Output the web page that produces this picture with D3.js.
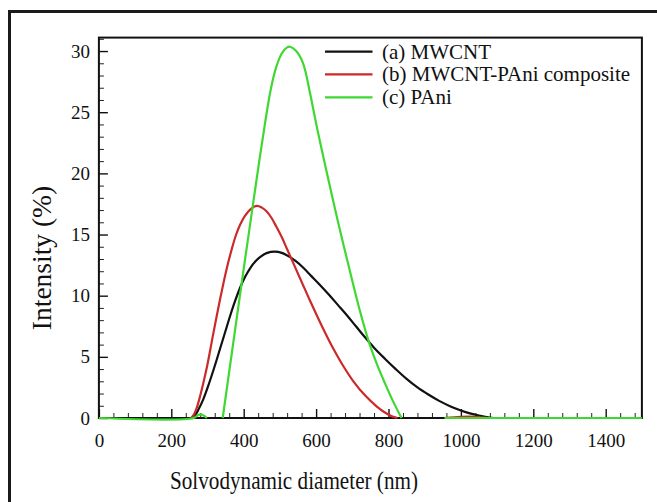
<!DOCTYPE html>
<html>
<head>
<meta charset="utf-8">
<script src="https://cdn.jsdelivr.net/npm/d3@7"></script>
<style>
  html, body { margin: 0; padding: 0; background: #fff; }
  svg { display: block; }
  text { font-family: "Liberation Serif", "Times New Roman", serif; fill: #111; }
</style>
</head>
<body>
<svg id="chart" width="657" height="502"></svg>
<script>
// Particle size distributions (intensity %) vs solvodynamic diameter (nm)
const mwcntDiameter = [255, 265, 276, 288, 304, 320, 334, 348, 362, 376, 390, 404, 419, 432, 445, 465, 486, 505, 528, 545, 564, 587, 610, 635, 660, 685, 710, 735, 760, 790, 820, 850, 880, 910, 940, 970, 1000, 1025, 1050, 1071, 1090];
const mwcntIntensity = [0, 0.2, 0.75, 1.5, 2.8, 4.25, 5.6, 6.95, 8.3, 9.55, 10.65, 11.55, 12.3, 12.8, 13.15, 13.5, 13.6, 13.5, 13.15, 12.8, 12.3, 11.6, 10.9, 10.1, 9.25, 8.4, 7.5, 6.6, 5.75, 4.85, 4.0, 3.2, 2.5, 1.92, 1.4, 0.97, 0.62, 0.38, 0.2, 0.08, 0];

const compositeDiameter = [255, 262, 270, 277, 288, 299, 316, 334, 353, 366, 378, 390, 403, 420, 437, 450, 463, 477, 490, 505, 520, 541, 562, 583, 605, 627, 647, 675, 703, 735, 767, 790, 809, 825, null, 955, 1000, 1040, 1075];
const compositeIntensity = [0, 0.25, 0.8, 1.5, 2.8, 4.25, 6.9, 9.6, 12.2, 13.7, 14.9, 15.8, 16.5, 17.1, 17.35, 17.2, 16.9, 16.35, 15.65, 14.8, 13.8, 12.4, 11.0, 9.6, 8.2, 6.85, 5.7, 4.25, 3.0, 1.85, 0.95, 0.45, 0.15, 0, null, 0, 0.1, 0.1, 0];

const paniDiameter = [0, 262, 272, 282, 292, 298, null, 342, 360, 380, 400, 420, 440, 460, 475, 490, 505, 520, 528, 545, 564, 583, 602, 624, 646, 668, 691, 718, 746, 768, 790, 812, 836, null, 955, 1500];
const paniIntensity = [0, 0, 0.2, 0.3, 0.15, 0, null, 0, 3.8, 8.0, 12.2, 16.3, 20.4, 24.3, 26.9, 28.7, 29.8, 30.3, 30.35, 30.0, 29.0, 26.6, 23.8, 20.8, 17.9, 15.1, 12.3, 9.1, 6.2, 4.4, 2.85, 1.4, 0, null, 0, 0];

const seriesNames = ["(a) MWCNT", "(b) MWCNT-PAni composite", "(c) PAni"];
const seriesColors = ["#111111", "#cc2a2a", "#3fd832"];

const xTicks = [0, 200, 400, 600, 800, 1000, 1200, 1400];
const yTicks = [0, 5, 10, 15, 20, 25, 30];

const xTitle = "Solvodynamic diameter (nm)";
const yTitle = "Intensity (%)";

const svg = d3.select("#chart");
const W = 657, H = 502;

svg.append("rect").attr("width", W).attr("height", H).attr("fill", "#fff");

// outer frame (runs past the right and bottom edges)
svg.append("rect")
  .attr("x", 9.5).attr("y", 11.5)
  .attr("width", 700).attr("height", 600)
  .attr("fill", "none").attr("stroke", "#1a1a1a").attr("stroke-width", 3);

const plot = { left: 98.9, right: 641.9, top: 37.6, bottom: 418 };

const x = d3.scaleLinear().domain([0, 1500]).range([plot.left, plot.right]);
const y = d3.scaleLinear().domain([0, 31.1]).range([plot.bottom, plot.top]);

// minor ticks
const xMinor = d3.range(0, 1500.1, 40).filter(v => v % 200 !== 0);
const yMinor = d3.range(0, 31.1, 1).filter(v => v % 5 !== 0);

svg.append("g")
  .attr("transform", `translate(0,${plot.bottom})`)
  .call(d3.axisBottom(x).tickValues(xMinor).tickSize(-5).tickFormat(""))
  .call(g => g.select(".domain").remove())
  .call(g => g.selectAll("line").attr("stroke", "#222").attr("stroke-width", 1));

svg.append("g")
  .attr("transform", `translate(${plot.left},0)`)
  .call(d3.axisLeft(y).tickValues(yMinor).tickSize(-5).tickFormat(""))
  .call(g => g.select(".domain").remove())
  .call(g => g.selectAll("line").attr("stroke", "#222").attr("stroke-width", 1));

// major ticks with labels
svg.append("g")
  .attr("transform", `translate(0,${plot.bottom})`)
  .call(d3.axisBottom(x).tickValues(xTicks).tickSizeInner(-9).tickSizeOuter(0).tickPadding(16).tickFormat(d3.format("d")))
  .call(g => g.select(".domain").remove())
  .call(g => g.selectAll("line").attr("stroke", "#111").attr("stroke-width", 1.4))
  .call(g => g.selectAll("text").attr("font-size", 19).attr("font-family", "Liberation Serif").attr("fill", "#111"));

svg.append("g")
  .attr("transform", `translate(${plot.left},0)`)
  .call(d3.axisLeft(y).tickValues(yTicks).tickSizeInner(-9).tickSizeOuter(0).tickPadding(9).tickFormat(d3.format("d")))
  .call(g => g.select(".domain").remove())
  .call(g => g.selectAll("line").attr("stroke", "#111").attr("stroke-width", 1.4))
  .call(g => g.selectAll("text").attr("font-size", 19).attr("font-family", "Liberation Serif").attr("fill", "#111"));

// plot frame
svg.append("rect")
  .attr("x", plot.left).attr("y", plot.top)
  .attr("width", plot.right - plot.left).attr("height", plot.bottom - plot.top)
  .attr("fill", "none").attr("stroke", "#111").attr("stroke-width", 2);

// curves
const series = [
  { d: mwcntDiameter, v: mwcntIntensity },
  { d: compositeDiameter, v: compositeIntensity },
  { d: paniDiameter, v: paniIntensity }
];

const line = d3.line()
  .defined(p => p[0] != null && p[1] != null)
  .x(p => x(p[0]))
  .y(p => y(p[1]))
  .curve(d3.curveCatmullRom.alpha(0.5));

series.forEach((s, i) => {
  const pts = s.d.map((d, k) => [d, s.v[k]]);
  svg.append("path")
    .attr("d", line(pts))
    .attr("fill", "none")
    .attr("stroke", seriesColors[i])
    .attr("stroke-width", 2.2)
    .attr("stroke-linejoin", "round");
});

// legend
const legendY = [51.7, 74.3, 97.4];
seriesNames.forEach((name, i) => {
  svg.append("line")
    .attr("x1", 325).attr("x2", 372.5)
    .attr("y1", legendY[i]).attr("y2", legendY[i])
    .attr("stroke", seriesColors[i]).attr("stroke-width", 2.2);
  svg.append("text")
    .attr("x", 382).attr("y", legendY[i] + 7)
    .attr("font-size", 21)
    .text(name);
});

// axis titles
svg.append("text")
  .attr("x", 170).attr("y", 489)
  .attr("font-size", 26)
  .attr("textLength", 248).attr("lengthAdjust", "spacingAndGlyphs")
  .text(xTitle);

svg.append("text")
  .attr("transform", `translate(51,258) rotate(-90)`)
  .attr("text-anchor", "middle")
  .attr("font-size", 27.5)
  .text(yTitle);
</script>
</body>
</html>
